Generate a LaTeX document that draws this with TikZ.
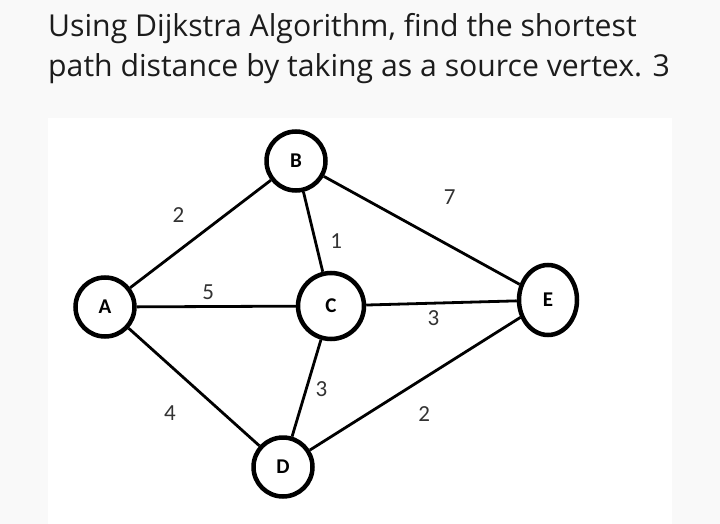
\documentclass[tikz,border=0pt]{standalone}
\usepackage{fontspec}
\setmainfont{Open Sans}
\newfontfamily\graphfont{Carlito}
\usepackage{tikz}
\usetikzlibrary{shapes.geometric}
\definecolor{pagebg}{RGB}{249,249,249}
\definecolor{titleink}{RGB}{28,28,28}

\begin{document}
\begin{tikzpicture}[x=1pt,y=-1pt,
    vtx/.style={circle,draw,line width=4.5pt,minimum size=59pt,inner sep=0pt,
      font=\graphfont\fontsize{21}{21}\selectfont\bfseries},
    edge/.style={line width=2.8pt},
    lbl/.style={font=\graphfont\fontsize{23}{23}\selectfont,text=black!80},
    ttl/.style={anchor=base west,text=titleink,inner sep=0pt,
      font=\fontsize{30.2}{36}\selectfont}]
  % page and the white picture area
  \fill[pagebg] (0,0) rectangle (720,524);
  \fill[white] (48,118) rectangle (672,524);
  \useasboundingbox (0,0) rectangle (720,524);
  % question
  \node[ttl] (title1) at (48,37) {Using Dijkstra Algorithm, find the shortest};
  \node[ttl] (title2) at (48,77) {path distance by taking as a source vertex. 3};
  % vertices
  \node[vtx] (A) at (105,307) {A};
  \node[vtx] (B) at (296,161) {B};
  \node[vtx,minimum height=66pt] (C) at (331,306) {C};
  \node[vtx] (D) at (283,467) {D};
  \node[vtx,ellipse,minimum width=58pt,minimum height=70pt] (E) at (548,300) {E};
  % weighted edges
  \draw[edge] (A) -- (B) node[lbl,midway,xshift=-22pt,yshift=19pt] {2};
  \draw[edge] (A) -- (C) node[lbl,midway,xshift=-8pt,yshift=14pt] {5};
  \draw[edge] (B) -- (C) node[lbl,midway,xshift=23pt,yshift=-9pt] {1};
  \draw[edge] (B) -- (E) node[lbl,midway,xshift=28pt,yshift=33pt] {7};
  \draw[edge] (C) -- (E) node[lbl,midway,xshift=-8pt,yshift=-15pt] {3};
  \draw[edge] (C) -- (D) node[lbl,midway,xshift=15pt,yshift=-1pt] {3};
  \draw[edge] (A) -- (D) node[lbl,midway,xshift=-24pt,yshift=-26pt] {4};
  \draw[edge] (D) -- (E) node[lbl,midway,xshift=9pt,yshift=-30pt] {2};
\end{tikzpicture}
\end{document}
